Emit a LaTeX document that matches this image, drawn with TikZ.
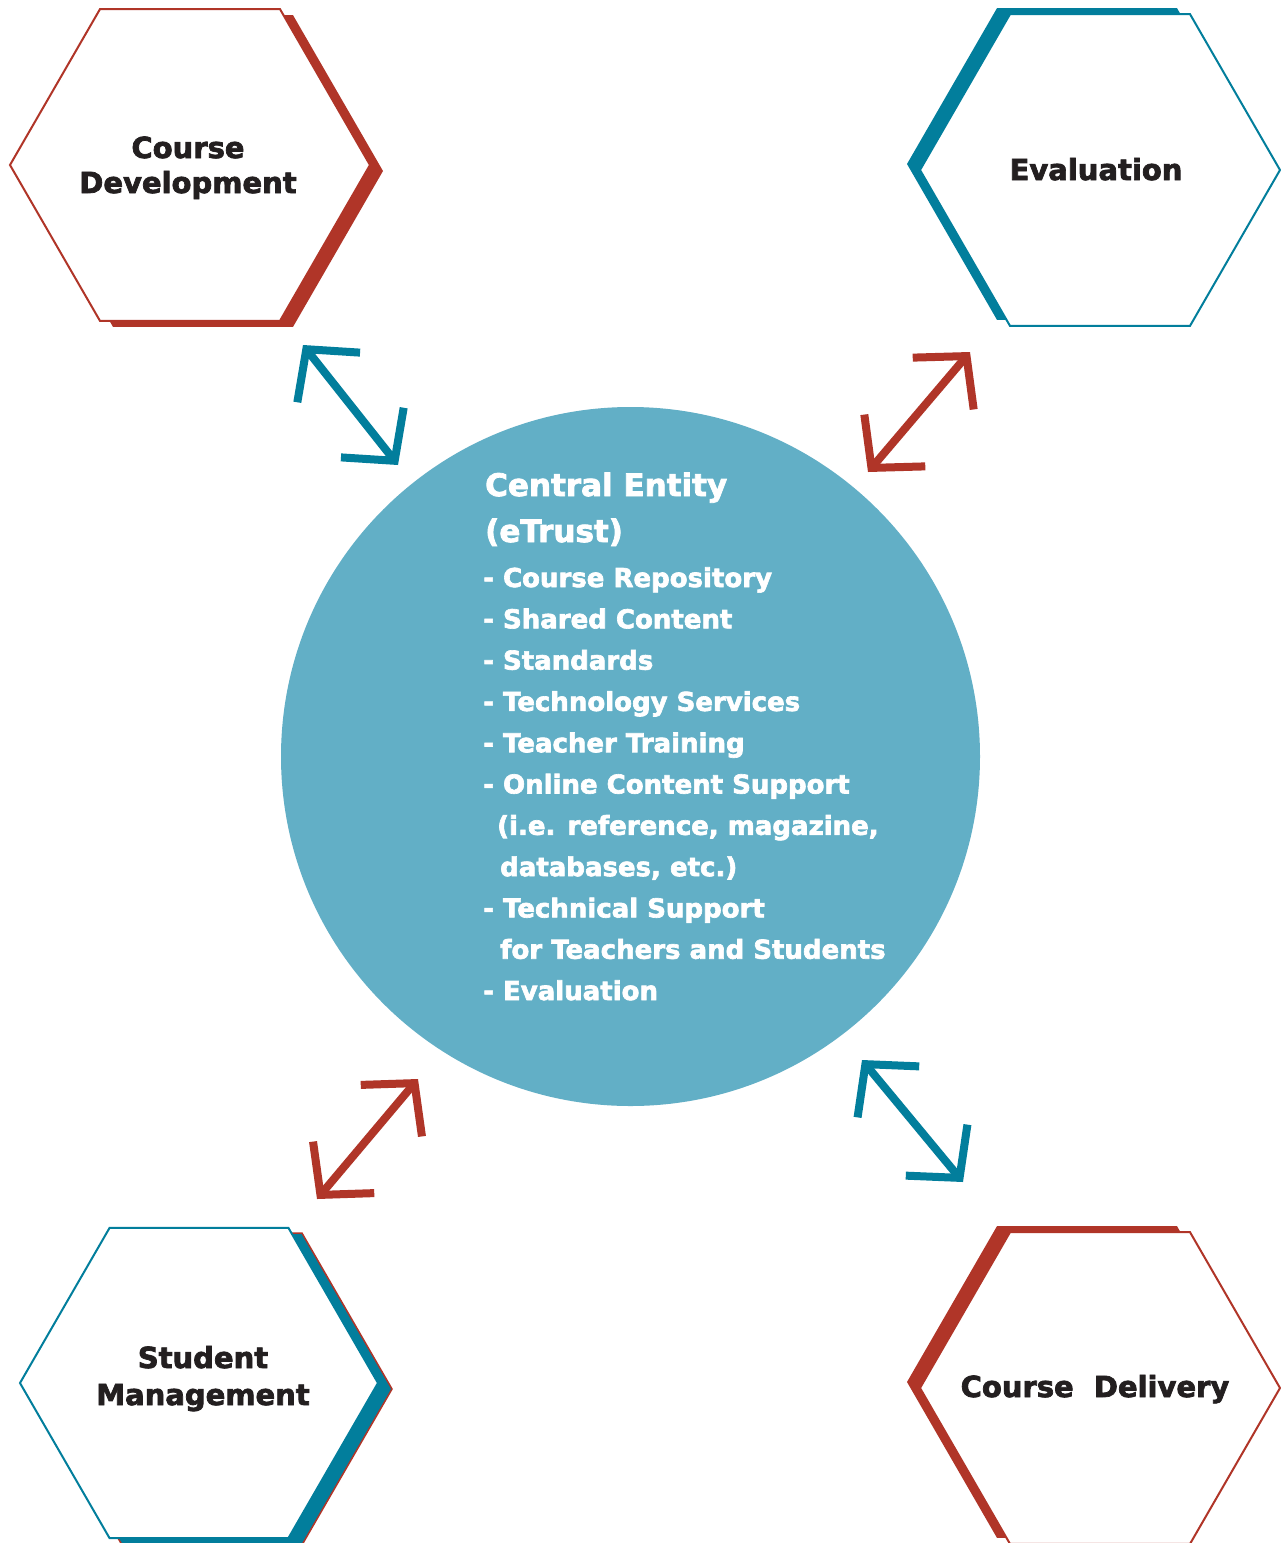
\documentclass[tikz,border=0pt]{standalone}
\usepackage{fontspec}
\setmainfont{DejaVu Sans}[BoldFeatures={FakeBold=2.5}]
\usetikzlibrary{shapes.geometric,arrows.meta}
\definecolor{myred}{RGB}{176,53,40}
\definecolor{myteal}{RGB}{2,126,156}
\definecolor{circfill}{RGB}{98,175,198}
\definecolor{txtdark}{RGB}{35,31,32}
\begin{document}
\begin{tikzpicture}[x=1pt,y=-1pt,
  hexbase/.style={regular polygon,regular polygon sides=6,minimum size=#1,inner sep=0pt,outer sep=0pt},
  hexout/.style={hexbase=360pt,fill=white,line width=2pt},
  hexshadow/.style={hexbase=360pt},
  hexlabel/.style={anchor=base,inner sep=0pt,text=txtdark,font=\bfseries\fontsize{29}{35}\selectfont},
  bigtxt/.style={anchor=base west,inner sep=0pt,text=white,font=\bfseries\fontsize{31}{37}\selectfont},
  listtxt/.style={anchor=base west,inner sep=0pt,text=white,font=\bfseries\fontsize{26}{31}\selectfont},
  dbl/.style={line width=8pt,draw=#1,
    arrows={Straight Barb[length=36pt,width=80pt]-Straight Barb[length=36pt,width=80pt]}}
]
\useasboundingbox (0,0) rectangle (1281,1543);
\fill[white] (0,0) rectangle (1281,1543);

% central circle
\node[circle,fill=circfill,minimum size=699pt,inner sep=0pt] (center) at (630.5,756.5) {};

% hexagons: shadows first
\node[hexshadow,fill=myred] (cdshadow) at (203,171) {};
\node[hexout,draw=myred] (cd) at (190,165) {};
\node[hexlabel] (cdl1) at (188,158) {Course};
\node[hexlabel] (cdl2) at (188,193) {Development};

\node[hexshadow,fill=myteal] (evshadow) at (1087,164) {};
\node[hexout,draw=myteal] (ev) at (1100,170) {};
\node[hexlabel] (evl) at (1096,180) {Evaluation};

\node[hexshadow,fill=myteal,draw=myred,line width=1.5pt] (smshadow) at (212,1389) {};
\node[hexout,draw=myteal,minimum size=358pt] (sm) at (199,1383) {};
\node[hexlabel] (sml1) at (203,1368) {Student};
\node[hexlabel] (sml2) at (203,1405) {Management};

\node[hexshadow,fill=myred] (cvshadow) at (1087,1382) {};
\node[hexout,draw=myred] (cv) at (1100,1388) {};
\node[hexlabel] (cvl) at (1095,1397) {Course\ \ Delivery};

% central texts
\node[bigtxt] (t1) at (485,496) {Central Entity};
\node[bigtxt] (t2) at (485,542) {(eTrust)};
\node[listtxt] (l1) at (483,587) {- Course Repository};
\node[listtxt] (l2) at (483,628.3) {- Shared Content};
\node[listtxt] (l3) at (483,669.6) {- Standards};
\node[listtxt] (l4) at (483,710.9) {- Technology Services};
\node[listtxt] (l5) at (483,752.2) {- Teacher Training};
\node[listtxt] (l6) at (483,793.5) {- Online Content Support};
\node[listtxt] (l7) at (497,834.8) {(i.e. reference, magazine,};
\node[listtxt] (l8) at (500,876.1) {databases, etc.)};
\node[listtxt] (l9) at (483,917.4) {- Technical Support};
\node[listtxt] (l10) at (500,958.7) {for Teachers and Students};
\node[listtxt] (l11) at (483,1000) {- Evaluation};

% arrows
\coordinate (a1s) at (303,345);
\coordinate (a1e) at (398,465);
\coordinate (a2s) at (970,352);
\coordinate (a2e) at (868,472);
\coordinate (a3s) at (418,1079);
\coordinate (a3e) at (317,1199);
\coordinate (a4s) at (862,1060);
\coordinate (a4e) at (963,1182);
\draw[dbl=myteal] (a1s) -- (a1e);
\draw[dbl=myred] (a2s) -- (a2e);
\draw[dbl=myred] (a3s) -- (a3e);
\draw[dbl=myteal] (a4s) -- (a4e);
\end{tikzpicture}
\end{document}
